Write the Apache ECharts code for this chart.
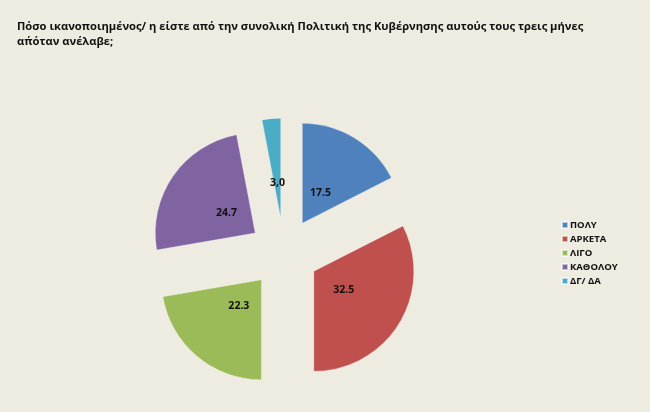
<!DOCTYPE html>
<html>
<head>
<meta charset="utf-8">
<script src="https://cdn.jsdelivr.net/npm/echarts@6/dist/echarts.min.js"></script>
<style>
html,body{margin:0;padding:0;background:#EEEBE1;}
#chart{width:650px;height:412px;}
</style>
</head>
<body>
<div id="chart"></div>
<script>
var titleText = 'Πόσο ικανοποιημένος/ η είστε από την συνολική Πολιτική της Κυβέρνησης αυτούς τους τρεις μήνες\nαπ΄όταν ανέλαβε;';
var categories = ['ΠΟΛΥ', 'ΑΡΚΕΤΑ', 'ΛΙΓΟ', 'ΚΑΘΟΛΟΥ', 'ΔΓ/ ΔΑ'];
var values = [17.5, 32.5, 22.3, 24.7, 3.0];
var valueLabels = ['17.5', '32.5', '22.3', '24.7', '3,0'];
var colors = ['#4F81BD', '#C0504D', '#9BBB59', '#8064A2', '#4BACC6'];

var chart = echarts.init(document.getElementById('chart'), null, {renderer: 'canvas'});
var font = '"Open Sans", "Noto Sans", sans-serif';

function makeData(transparent) {
  return categories.map(function (c, i) {
    return {
      name: c,
      value: values[i],
      selected: true,
      itemStyle: {color: transparent ? 'rgba(0,0,0,0)' : colors[i]}
    };
  });
}

var center = [284, 253];
chart.setOption({
  backgroundColor: '#EEEBE1',
  animation: false,
  color: colors,
  title: {
    text: titleText,
    left: 12,
    top: 14,
    textStyle: {fontFamily: font, fontSize: 11.2, fontWeight: 'bold', color: '#111', lineHeight: 15}
  },
  legend: {
    orient: 'vertical',
    left: 561,
    top: 219,
    padding: 0,
    data: categories,
    icon: 'rect',
    itemWidth: 6,
    itemHeight: 6,
    itemGap: 2,
    selectedMode: false,
    textStyle: {fontFamily: font, fontSize: 9.5, fontWeight: 'bold', color: '#111', lineHeight: 12, padding: [0, 0, 0, -3]}
  },
  series: [
    {
      type: 'pie',
      center: center,
      radius: [0, 100],
      startAngle: 90,
      clockwise: true,
      selectedMode: 'multiple',
      selectedOffset: 35,
      avoidLabelOverlap: false,
      emphasis: {disabled: true},
      itemStyle: {borderColor: 'rgba(255,255,255,0.6)', borderWidth: 0.5},
      select: {itemStyle: {borderColor: 'rgba(255,255,255,0.6)', borderWidth: 0.5}},
      label: {show: false},
      labelLine: {show: false},
      data: makeData(false),
      z: 2
    },
    {
      type: 'pie',
      center: center,
      radius: [0, 64],
      startAngle: 90,
      clockwise: true,
      selectedMode: 'multiple',
      selectedOffset: 35,
      avoidLabelOverlap: false,
      emphasis: {disabled: true},
      silent: true,
      itemStyle: {borderWidth: 0},
      select: {itemStyle: {borderWidth: 0, color: 'rgba(0,0,0,0)'}},
      label: {
        show: true,
        position: 'inside',
        fontFamily: font,
        fontSize: 10.5,
        fontWeight: 'bold',
        color: '#111',
        formatter: function (p) { return valueLabels[p.dataIndex]; }
      },
      labelLine: {show: false},
      data: makeData(true),
      z: 3
    }
  ]
});
</script>
</body>
</html>
